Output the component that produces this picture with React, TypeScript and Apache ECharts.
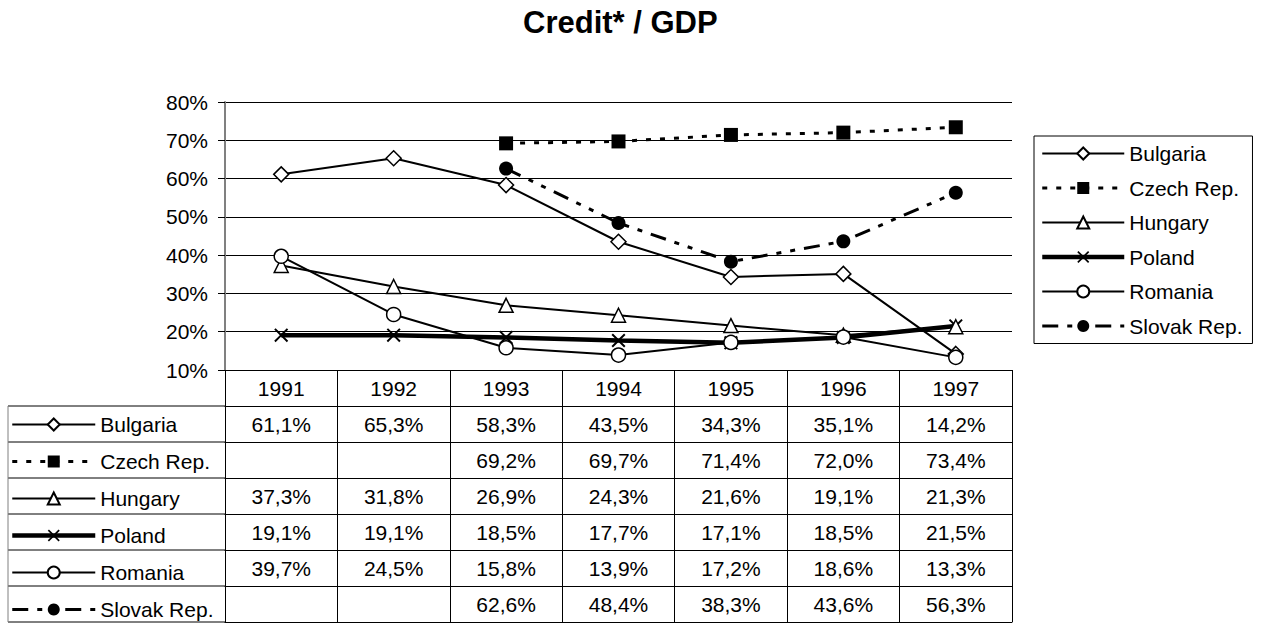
import React, { useEffect, useRef } from 'react';
import * as echarts from 'echarts';

// ---- data ----
const years = ['1991', '1992', '1993', '1994', '1995', '1996', '1997'];
const seriesNames = ['Bulgaria', 'Czech Rep.', 'Hungary', 'Poland', 'Romania', 'Slovak Rep.'];
const bulgaria = [61.1, 65.3, 58.3, 43.5, 34.3, 35.1, 14.2];
const czech = [null, null, 69.2, 69.7, 71.4, 72.0, 73.4];
const hungary = [37.3, 31.8, 26.9, 24.3, 21.6, 19.1, 21.3];
const poland = [19.1, 19.1, 18.5, 17.7, 17.1, 18.5, 21.5];
const romania = [39.7, 24.5, 15.8, 13.9, 17.2, 18.6, 13.3];
const slovak = [null, null, 62.6, 48.4, 38.3, 43.6, 56.3];
const yMin = 10;
const yMax = 80;
const yStep = 10;

const seriesValues = [bulgaria, czech, hungary, poland, romania, slovak];

// ---- styles ----
const FONT = '"Liberation Sans", Arial, sans-serif';
const X_PATH = 'path://M0,1L1,0L5,4L9,0L10,1L6,5L10,9L9,10L5,6L1,10L0,9L4,5Z';
const styles: any[] = [
  { symbol: 'diamond', size: 15, fill: '#fff', border: 1.5, width: 2, dash: 'solid' },
  { symbol: 'rect', size: 14, fill: '#000', border: 0, width: 3, dash: [5, 9] },
  { symbol: 'triangle', size: 14, fill: '#fff', border: 1.5, width: 2, dash: 'solid' },
  { symbol: X_PATH, size: 14, fill: '#000', border: 0, width: 4.5, dash: 'solid' },
  { symbol: 'circle', size: 14, fill: '#fff', border: 1.5, width: 2, dash: 'solid' },
  { symbol: 'circle', size: 14, fill: '#000', border: 0, width: 3, dash: [16, 9, 5, 9, 5, 9] },
];

const GRID_LEFT = 225;
const GRID_TOP = 102;
const GRID_W = 787;
const GRID_H = 268;
const ROW_H = 36;
const FS = 21;

const fmt = (v: number | null) => (v == null ? '' : v.toFixed(1).replace('.', ',') + '%');

function rowAxis(labels: string[], offset: number, showTicks: boolean, showLabels: boolean) {
  return {
    type: 'category',
    gridIndex: 0,
    position: 'bottom',
    offset,
    data: labels,
    boundaryGap: true,
    axisLine: { show: true, lineStyle: { color: '#000', width: 1 } },
    axisTick: { show: showTicks, length: ROW_H, interval: 0, lineStyle: { color: '#000', width: 1 } },
    axisLabel: { show: showLabels, interval: 0, margin: 8, fontSize: FS, color: '#000', fontFamily: FONT },
    splitLine: { show: false },
  };
}

export default function App() {
  const ref = useRef<HTMLDivElement>(null);
  useEffect(() => {
    if (!ref.current) return;
    const chart = echarts.init(ref.current, undefined, { renderer: 'svg' });

    const legendData = seriesNames.map((name, i) => ({
      name,
      lineStyle: { width: styles[i].width, type: styles[i].dash, color: '#000' },
    }));

    const xAxes: any[] = [rowAxis(years, 0, true, true)];
    seriesValues.forEach((vals, i) => {
      xAxes.push(rowAxis(vals.map(fmt), ROW_H * (i + 1), true, true));
    });
    xAxes.push(rowAxis(years.map(() => ''), ROW_H * 7, false, false));

    const graphic: any[] = [];
    for (let k = 0; k < 7; k++) {
      const y = GRID_TOP + GRID_H + ROW_H * (k + 1);
      graphic.push({ type: 'line', shape: { x1: 8, y1: y, x2: GRID_LEFT, y2: y }, style: { stroke: '#000', lineWidth: 1 } });
    }
    graphic.push({
      type: 'line',
      shape: { x1: 8, y1: GRID_TOP + GRID_H + ROW_H, x2: 8, y2: GRID_TOP + GRID_H + ROW_H * 7 },
      style: { stroke: '#808080', lineWidth: 1 },
    });

    const option: any = {
      animation: false,
      backgroundColor: '#fff',
      title: {
        text: 'Credit* / GDP',
        left: 523,
        top: 7,
        padding: 0,
        textStyle: { fontSize: 31, fontWeight: 'bold', fontFamily: FONT, color: '#000' },
      },
      grid: {
        left: GRID_LEFT,
        top: GRID_TOP,
        width: GRID_W,
        height: GRID_H,
        containLabel: false,
        outerBoundsMode: 'none',
      },
      legend: [
        {
          orient: 'vertical',
          left: 1034,
          top: 136,
          padding: [7, 10, 7, 6],
          itemGap: 13.5,
          itemWidth: 82,
          itemHeight: 15,
          borderColor: '#000',
          borderWidth: 1,
          borderRadius: 0,
          selectedMode: false,
          textStyle: { fontSize: FS, color: '#000', fontFamily: FONT },
          data: legendData,
        },
        {
          orient: 'vertical',
          left: 10,
          top: GRID_TOP + GRID_H + ROW_H + 8,
          padding: 0,
          itemGap: 16,
          itemWidth: 83,
          itemHeight: 15,
          selectedMode: false,
          textStyle: { fontSize: FS, color: '#000', fontFamily: FONT },
          data: legendData,
        },
      ],
      xAxis: xAxes,
      yAxis: {
        type: 'value',
        min: yMin,
        max: yMax,
        interval: yStep,
        axisLine: { show: true, lineStyle: { color: '#808080', width: 2 } },
        axisTick: { show: true, length: 7, lineStyle: { color: '#000', width: 1 } },
        axisLabel: { formatter: '{value}%', fontSize: FS, color: '#000', fontFamily: FONT, margin: 17 },
        splitLine: { show: true, lineStyle: { color: '#000', width: 1 } },
      },
      graphic,
      series: seriesNames.map((name, i) => ({
        name,
        type: 'line',
        xAxisIndex: 0,
        yAxisIndex: 0,
        data: seriesValues[i],
        symbol: styles[i].symbol,
        symbolSize: styles[i].size,
        showAllSymbol: true,
        lineStyle: { color: '#000', width: styles[i].width, type: styles[i].dash },
        itemStyle: {
          color: styles[i].fill,
          borderColor: '#000',
          borderWidth: styles[i].border,
        },
        emphasis: { disabled: true },
        z: i === 3 ? 2 : 3,
      })),
    };
    chart.setOption(option);
    return () => chart.dispose();
  }, []);
  return (
    <div
      ref={ref}
      style={{ position: 'fixed', left: 0, top: 0, width: 1261, height: 623, background: '#fff' }}
    />
  );
}
